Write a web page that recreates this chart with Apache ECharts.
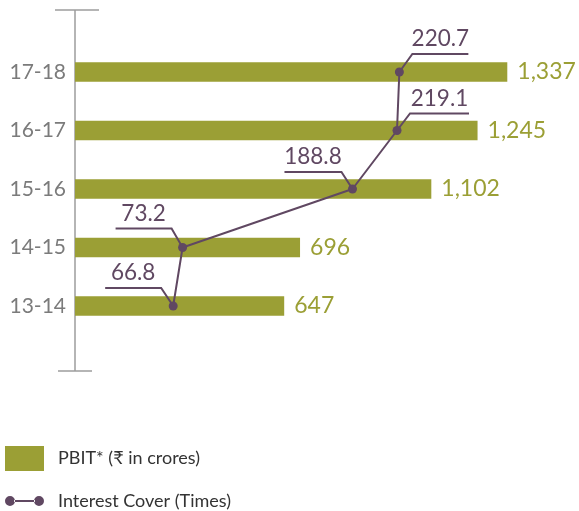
<!DOCTYPE html>
<html>
<head>
<meta charset="utf-8">
<script src="https://cdn.jsdelivr.net/npm/echarts@6/dist/echarts.min.js"></script>
<style>
  html, body { margin: 0; padding: 0; background: #fff; }
  #chart { width: 579px; height: 511px; }
</style>
</head>
<body>
<div id="chart"></div>
<script>
const years = ['13-14', '14-15', '15-16', '16-17', '17-18'];
const pbit = [647, 696, 1102, 1245, 1337];
const interestCover = [66.8, 73.2, 188.8, 219.1, 220.7];

// leader line for each cover label, relative to the point: [kneeX, kneeY, underlineEndX]
const leaderOffsets = [[-12, -18, -68], [-11, -19, -67], [-11, -17, -68], [13, -17, 72], [13, -18, 69]];

const green = '#9b9f35';
const purple = '#604862';
const axisGrey = '#9c9c9c';

const chart = echarts.init(document.getElementById('chart'));

const option = {
  animation: false,
  textStyle: { fontFamily: 'Lato' },
  grid: { left: 75, right: 19, top: 42.75, bottom: 175.75 },
  xAxis: [
    { type: 'value', min: 0, max: 1500, show: false },
    { type: 'value', min: 0, max: 330, show: false }
  ],
  yAxis: {
    type: 'category',
    data: years,
    axisLine: { show: false },
    axisTick: { show: false },
    splitLine: { show: false },
    axisLabel: { color: '#7b7b7b', fontSize: 21, margin: 9 }
  },
  legend: [
    {
      data: ['PBIT* (₹ in crores)'],
      left: 5,
      top: 446,
      padding: 0,
      icon: 'rect',
      itemWidth: 39,
      itemHeight: 25,
      textStyle: { color: '#333', fontSize: 18, padding: [0, 0, 0, 9] }
    },
    {
      data: [{
        name: 'Interest Cover (Times)',
        icon: 'path://M0,5a5,5 0 1,0 10,0a5,5 0 1,0 -10,0zM29,5a5,5 0 1,0 10,0a5,5 0 1,0 -10,0zM9,4h21v2h-21z'
      }],
      left: 5,
      top: 492,
      padding: 0,
      itemWidth: 39,
      itemHeight: 10,
      itemStyle: { color: purple, borderWidth: 0 },
      textStyle: { color: '#333', fontSize: 18, padding: [0, 0, 0, 9] }
    }
  ],
  graphic: [
    { type: 'line', shape: { x1: 75, y1: 10, x2: 75, y2: 371 }, style: { stroke: axisGrey, lineWidth: 1.5 } },
    { type: 'line', shape: { x1: 55, y1: 10, x2: 99, y2: 10 }, style: { stroke: axisGrey, lineWidth: 1.5 } },
    { type: 'line', shape: { x1: 58, y1: 371, x2: 92, y2: 371 }, style: { stroke: axisGrey, lineWidth: 1.5 } }
  ],
  series: [
    {
      name: 'PBIT* (₹ in crores)',
      type: 'bar',
      data: pbit,
      barWidth: 19.5,
      itemStyle: { color: green },
      label: {
        show: true,
        position: 'right',
        distance: 10,
        color: green,
        fontSize: 23,
        formatter: (p) => p.value.toLocaleString('en-US')
      }
    },
    {
      name: 'Interest Cover (Times)',
      type: 'line',
      xAxisIndex: 1,
      data: interestCover.map((v, i) => [v, years[i]]),
      symbol: 'circle',
      symbolSize: 9,
      lineStyle: { color: purple, width: 2 },
      itemStyle: { color: purple },
      z: 3
    },
    {
      type: 'custom',
      xAxisIndex: 1,
      data: interestCover.map((v, i) => [v, i]),
      z: 4,
      renderItem: (params, api) => {
        const p = api.coord([api.value(0), api.value(1)]);
        const o = leaderOffsets[params.dataIndex];
        const kx = p[0] + o[0];
        const ky = p[1] + o[1];
        const ex = p[0] + o[2];
        return {
          type: 'group',
          children: [
            {
              type: 'polyline',
              shape: { points: [p, [kx, ky], [ex, ky]] },
              style: { stroke: purple, lineWidth: 2, fill: null }
            },
            {
              type: 'text',
              x: (kx + ex) / 2,
              y: ky - 15,
              style: {
                text: String(api.value(0)),
                fill: purple,
                fontSize: 22.5,
                fontFamily: 'Lato',
                align: 'center',
                verticalAlign: 'middle'
              }
            }
          ]
        };
      }
    }
  ]
};

chart.setOption(option);
</script>
</body>
</html>
